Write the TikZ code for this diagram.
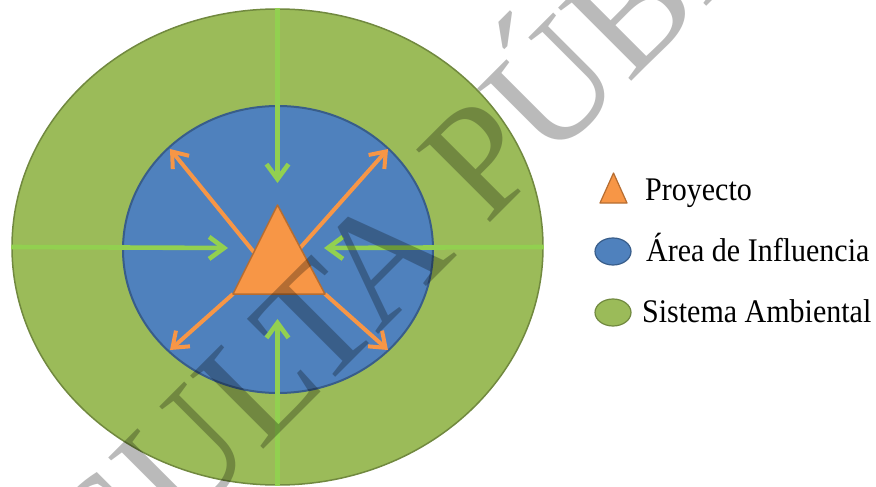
\documentclass[tikz,border=0pt]{standalone}
\usepackage{fontspec}
\setmainfont{Liberation Serif}
\usetikzlibrary{shapes.geometric,arrows.meta,calc}
\definecolor{envgreen}{HTML}{9BBB59}
\definecolor{envgreenD}{HTML}{71893F}
\definecolor{areablue}{HTML}{4F81BD}
\definecolor{areablueD}{HTML}{385D8A}
\definecolor{projor}{HTML}{F79646}
\definecolor{projorD}{HTML}{B66D31}
\definecolor{arrgreen}{HTML}{92D050}
\begin{document}
\begin{tikzpicture}[x=1pt,y=-1pt,
  zone/.style={ellipse, inner sep=0pt, line width=1.5pt},
  inarrow/.style={draw=arrgreen, line width=4.6pt, -{Straight Barb[length=15pt,width=22pt]}},
  outarrow/.style={draw=projor, line width=4pt, -{Straight Barb[length=14pt,width=21pt]}},
  legtext/.style={anchor=base west, inner sep=0pt, font=\fontsize{30}{30}\selectfont},
  wmark/.style={rotate=45, anchor=base west, inner sep=0pt, text=black, text opacity=0.27,
    font=\fontsize{158}{158}\selectfont}
  ]
\useasboundingbox (0,0) rectangle (876,487);
\fill[white] (0,0) rectangle (876,487);
% zones
\node[zone, fill=envgreen, draw=envgreenD, minimum width=531pt, minimum height=476pt] (outer) at (277.5,247) {};
\node[zone, fill=areablue, draw=areablueD, line width=2pt, minimum width=310pt, minimum height=287pt] (inner) at (278,249.5) {};
% green (incoming) arrows
\coordinate (gT) at (277.5,183);
\coordinate (gB) at (277.5,319);
\coordinate (gL) at (228,248);
\coordinate (gR) at (324,248);
\draw[inarrow] (outer.north) -- (gT);
\draw[inarrow] (outer.south) -- (gB);
\draw[inarrow] (outer.west) -- (gL);
\draw[inarrow] (outer.east) -- (gR);
% project triangle corners
\coordinate (apex) at (277.5,205);
\coordinate (bl) at (233,294);
\coordinate (br) at (325,294);
% orange (outgoing) arrows
\coordinate (oUL) at (170,149);
\coordinate (oUR) at (388,149);
\coordinate (oLL) at (170,350);
\coordinate (oLR) at (388,350);
\draw[outarrow] ($(apex)!0.53!(bl)$) -- (oUL);
\draw[outarrow] ($(apex)!0.48!(br)$) -- (oUR);
\draw[outarrow] (bl) -- (oLL);
\draw[outarrow] (br) -- (oLR);
\filldraw[fill=projor, draw=projorD, line width=1.5pt, line join=round] (apex) -- (bl) -- (br) -- cycle;
% legend
\coordinate (lt1) at (600,203);
\coordinate (lt2) at (627,203);
\coordinate (lt3) at (613.5,173);
\filldraw[fill=projor, draw=projorD, line width=1.2pt, line join=round] (lt1) -- (lt2) -- (lt3) -- cycle;
\node[zone, fill=areablue, draw=areablueD, line width=1.2pt, minimum width=36pt, minimum height=27pt] (legA) at (613,251.5) {};
\node[zone, fill=envgreen, draw=envgreenD, line width=1.2pt, minimum width=36pt, minimum height=27pt] (legS) at (613,312.5) {};
\node[legtext] (tP) at (645,200.5) {\scalebox{1}[1.1]{Proyecto}};
\node[legtext] (tA) at (646,261.5) {\scalebox{1}[1.1]{Área de Influencia}};
\node[legtext] (tS) at (642,322.5) {\scalebox{1}[1.1]{Sistema Ambiental}};
% watermark
\begin{scope}
\clip (0,0) rectangle (876,487);
\node[wmark] (wm) at (-118.6,831.6) {CONSULTA PÚBLICA};
\end{scope}
\end{tikzpicture}
\end{document}
